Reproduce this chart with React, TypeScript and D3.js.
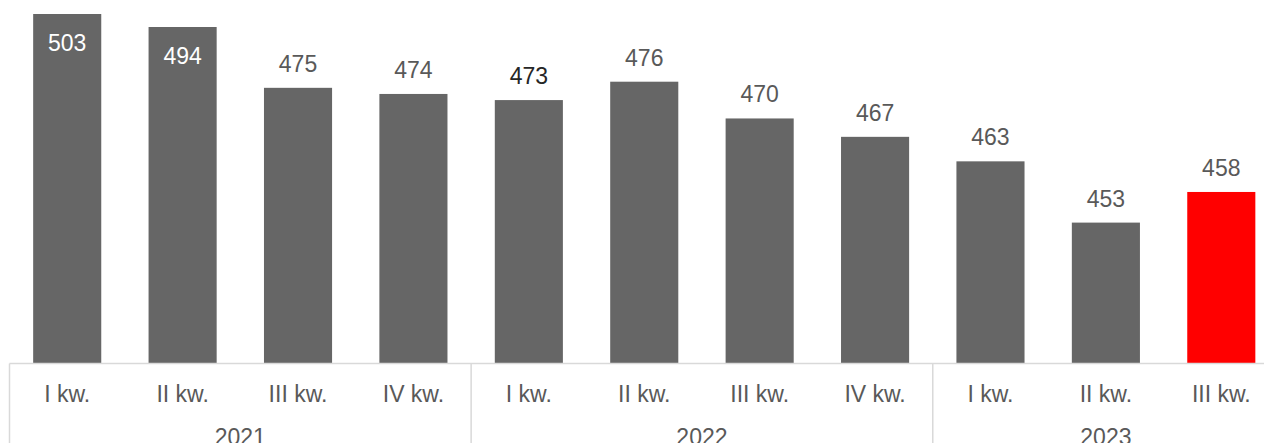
import React, { useEffect, useRef } from 'react';
import * as d3 from 'd3';

const quarters = ['I kw.', 'II kw.', 'III kw.', 'IV kw.', 'I kw.', 'II kw.', 'III kw.', 'IV kw.', 'I kw.', 'II kw.', 'III kw.'];
const years = ['2021', '2021', '2021', '2021', '2022', '2022', '2022', '2022', '2023', '2023', '2023'];
const values = [503, 494, 475, 474, 473, 476, 470, 467, 463, 453, 458];
const yearLabels = ['2021', '2022', '2023'];

const App: React.FC = () => {
    const chartRef = useRef<SVGSVGElement | null>(null);

    useEffect(() => {
        if (!chartRef.current) return;
        const width = 1264;
        const height = 443;
        const baseline = 363.5;
        const font = 'Liberation Sans, Arial, sans-serif';

        const svg = d3.select(chartRef.current)
            .attr('width', width)
            .attr('height', height);
        svg.selectAll('*').remove();

        const keys = values.map((_, i) => String(i));
        const x = d3.scaleBand()
            .domain(keys)
            .range([9.5, 1279])
            .paddingInner(0.41)
            .paddingOuter(0.205);

        // the two tallest bars are drawn shortened (broken scale) in the original
        const y = d3.scaleLinear()
            .domain([430, 476, 494, 503])
            .range([baseline, 81.7, 27, 14]);

        svg.append('g')
            .selectAll('rect')
            .data(values)
            .enter().append('rect')
            .attr('x', (d, i) => x(String(i))!)
            .attr('y', d => y(d))
            .attr('width', x.bandwidth())
            .attr('height', d => baseline - y(d))
            .attr('fill', (d, i) => i === values.length - 1 ? '#ff0000' : '#666666');

        // value labels: inside for the shortened bars, above for the rest
        svg.append('g')
            .selectAll('text')
            .data(values)
            .enter().append('text')
            .attr('x', (d, i) => x(String(i))! + x.bandwidth() / 2)
            .attr('y', d => d > 480 ? y(d) + 37 : y(d) - 16)
            .attr('text-anchor', 'middle')
            .style('font-family', font)
            .style('font-size', '23px')
            .style('fill', (d, i) => d > 480 ? '#ffffff' : (i === 4 ? '#262626' : '#595959'))
            .text(d => d);

        // axis
        const axis = svg.append('g').attr('stroke', '#d9d9d9').attr('stroke-width', 1.5);
        axis.append('line')
            .attr('x1', 9.5).attr('x2', width)
            .attr('y1', baseline).attr('y2', baseline);

        const step = x.step();
        const bounds = [0, 4, 8, 11].map(k => 9.5 + k * step);
        axis.selectAll('.sep')
            .data(bounds)
            .enter().append('line')
            .attr('class', 'sep')
            .attr('x1', d => d).attr('x2', d => d)
            .attr('y1', baseline).attr('y2', height);

        svg.append('g')
            .selectAll('text')
            .data(quarters)
            .enter().append('text')
            .attr('x', (d, i) => x(String(i))! + x.bandwidth() / 2)
            .attr('y', 401.5)
            .attr('text-anchor', 'middle')
            .style('font-family', font)
            .style('font-size', '23px')
            .style('fill', '#595959')
            .text(d => d);

        svg.append('g')
            .selectAll('text')
            .data(yearLabels)
            .enter().append('text')
            .attr('x', yr => {
                const idx = years.map((v, i) => v === yr ? i : -1).filter(i => i >= 0);
                const a = x(String(idx[0]))! - step * 0.41 / 2;
                const b = x(String(idx[idx.length - 1]))! + x.bandwidth() + step * 0.41 / 2;
                return (a + b) / 2;
            })
            .attr('y', 444.5)
            .attr('text-anchor', 'middle')
            .style('font-family', font)
            .style('font-size', '23px')
            .style('fill', '#595959')
            .text(d => d);
    }, []);

    return (
        <svg ref={chartRef} style={{ position: 'absolute', left: 0, top: 0, background: '#ffffff' }}></svg>
    );
};

export default App;
